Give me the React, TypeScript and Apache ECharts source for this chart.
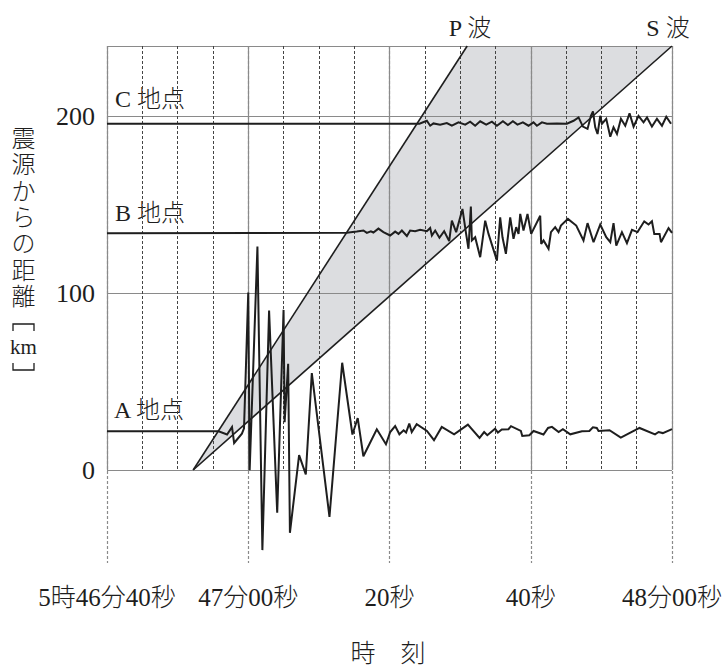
import React, { useEffect, useRef } from 'react';
import * as echarts from 'echarts';

// time in seconds after 5:46:40, distance in km
const TICK_SECONDS = [0, 20, 40, 60, 80];
const TICK_LABELS = ['5時46分40秒', '47分00秒', '20秒', '40秒', '48分00秒'];
const Y_TICKS = [0, 100, 200];
const P_WAVE = [[12.2, 0], [51.0, 240]];
const S_WAVE = [[12.2, 0], [80, 240]];
const WAVE_ZONE = [[12.2, 0], [51.0, 240], [80, 240]];

const TRACE_A = [
  [0, 22], [15.8, 22], [17.0, 20.2], [17.7, 24.4], [18.0, 15.4], [19.1, 20.7], [19.4, 23.7],
  [20.0, 100.5], [20.2, 0], [21.3, 126.5], [22.0, -45.2], [22.95, 90.3], [24.1, -24.1],
  [25.0, 90.7], [25.15, 27.1], [25.65, 60.2], [25.9, -35.4], [27.2, 8.5], [28.15, -2.4],
  [29.0, 54.9], [31.5, -26.4], [33.3, 60.8], [34.75, 20.2], [35.5, 29.5], [36.3, 7.9],
  [38.2, 23.2], [39.5, 14.7], [40.1, 21.6], [40.8, 25], [41.4, 20.3], [42.0, 22.6],
  [42.35, 21.3], [42.8, 26.4], [43.15, 21.6], [43.85, 26], [45.3, 22.2], [46.3, 17],
  [47.4, 24.5], [49.15, 20.3], [51.1, 25.8], [52.75, 18.3], [53.4, 21.6], [53.85, 19.8],
  [54.95, 23.5], [55.35, 21.3], [55.9, 23], [56.85, 23.2], [57.2, 24.9], [58.6, 22.2],
  [58.8, 19.4], [59.8, 19.8], [60.4, 22.2], [61.8, 20.2], [62.45, 23.9], [63.0, 24.5],
  [63.95, 21.6], [64.55, 23.2], [65.6, 20.3], [67.25, 22], [68.3, 22.2], [68.8, 24.3],
  [69.35, 23.9], [69.6, 22.2], [71.15, 22.6], [72.75, 18.4], [75.4, 23.9], [77.6, 20.3],
  [78.1, 21.6], [78.7, 21], [80, 23.2],
];

const TRACE_B = [
  [0, 134], [33.96, 134.3], [35.37, 135], [36.31, 135.6], [36.79, 134.3], [37.36, 135.2],
  [37.72, 134.5], [38.43, 136.7], [39.14, 134.7], [40.09, 132.8], [40.8, 135], [41.27, 133.7],
  [41.75, 135.6], [42.46, 132.5], [42.92, 135.6], [43.63, 135.2], [44.34, 136], [45.29, 135.2],
  [45.76, 137], [46.0, 132.8], [46.47, 135.6], [47.07, 131.5], [47.74, 135.2], [48.45, 129.6],
  [48.83, 141.2], [49.44, 134.7], [50.33, 147.8], [50.81, 134.7], [51.18, 125.3], [51.52, 149.2],
  [51.66, 130], [52.13, 131.8], [52.84, 120.5], [53.55, 141.2], [54.02, 133.7], [55.21, 118.6],
  [55.67, 143], [56.0, 131.8], [56.48, 122.4], [57.09, 143], [57.56, 130.9], [57.94, 137.5],
  [58.27, 133.7], [58.51, 145], [58.97, 135.6], [59.54, 145], [60.06, 133.7], [61.34, 144],
  [61.48, 128], [61.81, 130], [62.52, 125.3], [62.86, 134.7], [63.46, 137.5], [63.93, 134.7],
  [64.27, 138.4], [65.26, 142.2], [66.44, 138.4], [67.47, 130], [68.04, 139.8], [68.89, 129],
  [69.84, 139], [70.69, 131.8], [71.26, 129], [71.72, 139.8], [72.11, 127.1], [72.91, 134.7],
  [73.62, 128.5], [74.33, 136], [75.12, 134.7], [76.07, 140.8], [76.68, 139], [77.16, 140.8],
  [77.49, 133.7], [78.24, 133.7], [78.44, 129], [79.51, 137], [80, 134.3],
];

const TRACE_C = [
  [0, 196], [44.24, 196], [45.29, 197.7], [45.76, 194.9], [46.22, 196.2], [47.17, 195.5],
  [48.12, 196.4], [48.83, 194.9], [49.77, 196.8], [50.72, 195.5], [51.42, 197.2], [52.13, 194.9],
  [52.84, 197.4], [53.69, 195.5], [54.5, 197.2], [55.21, 194.9], [56.06, 197.4], [56.76, 195.3],
  [57.47, 197.4], [58.12, 195.5], [58.89, 196.8], [59.68, 194.9], [60.39, 196.8], [60.87, 194.9],
  [61.58, 196.8], [62.29, 196], [63.71, 196.2], [65.12, 196], [66.06, 197.7], [66.77, 199.6],
  [67.39, 194.4], [68.04, 193.1], [68.52, 200.5], [68.81, 203], [69.13, 194], [69.46, 190.2],
  [69.84, 200.5], [70.08, 196], [70.69, 198.8], [71.26, 188.7], [71.72, 194], [72.21, 190.2],
  [72.77, 198.8], [73.38, 194.9], [73.99, 201.9], [74.56, 194.4], [75.26, 200.5], [75.97, 196.8],
  [76.46, 199.6], [77.16, 194.4], [77.87, 198.8], [78.58, 194.9], [79.19, 200], [79.86, 196],
];

const STATION_NAMES = ['A 地点', 'B 地点', 'C 地点'];
const WAVE_NAMES = ['P 波', 'S 波'];
const Y_TITLE = '震源からの距離';
const Y_UNIT = 'km';
const X_TITLE = '時　刻';

const FONT = "'Liberation Serif', 'Noto Sans CJK JP', serif";
const INK = '#1e1e1e';
const GRID_GRAY = '#8a8a8a';

export default function App() {
  const ref = useRef<HTMLDivElement>(null);

  useEffect(() => {
    document.body.style.margin = '0';
    if (!ref.current) return;
    const chart = echarts.init(ref.current, undefined, { renderer: 'svg' });

    const traceSeries = (data: number[][]) => ({
      type: 'line',
      xAxisIndex: 1,
      yAxisIndex: 1,
      data,
      showSymbol: false,
      symbol: 'none',
      lineStyle: { color: INK, width: 2, join: 'miter', miterLimit: 3 },
      z: 5,
    });

    const waveLine = (data: number[][]) => ({
      type: 'line',
      xAxisIndex: 0,
      yAxisIndex: 0,
      data,
      showSymbol: false,
      symbol: 'none',
      lineStyle: { color: INK, width: 1.6 },
      z: 4,
    });

    const textStyle = (text: string, size: number) => ({
      text,
      fill: INK,
      font: `300 ${size}px ${FONT}`,
    });

    chart.setOption({
      animation: false,
      backgroundColor: '#ffffff',
      grid: [
        { left: 107, top: 46, width: 565, height: 424 },
        { left: 107, top: 46, width: 565, height: 517 },
      ],
      xAxis: [
        {
          gridIndex: 0,
          type: 'value',
          min: 0,
          max: 80,
          interval: 20,
          axisLine: { show: false },
          axisTick: { show: false },
          axisLabel: { show: false },
          splitLine: { show: true, lineStyle: { color: GRID_GRAY, width: 1.2 } },
          minorTick: { show: false, splitNumber: 4 },
          minorSplitLine: { show: true, lineStyle: { color: '#444', width: 1, type: [3, 2] } },
        },
        {
          gridIndex: 1,
          type: 'value',
          min: 0,
          max: 80,
          interval: 20,
          axisLine: { show: false },
          axisTick: { show: false },
          axisLabel: {
            show: true,
            margin: 22,
            color: INK,
            fontSize: 25,
            fontWeight: 300,
            fontFamily: FONT,
            formatter: (v: number) => {
              const i = TICK_SECONDS.indexOf(v);
              return i >= 0 ? TICK_LABELS[i] : '';
            },
          },
          splitLine: { show: true, lineStyle: { color: GRID_GRAY, width: 1.2, type: [3, 2] } },
        },
      ],
      yAxis: [
        {
          gridIndex: 0,
          type: 'value',
          min: 0,
          max: 240,
          interval: 100,
          axisLine: { show: false },
          axisTick: { show: false },
          axisLabel: {
            show: true,
            margin: 12,
            color: INK,
            fontSize: 26,
            fontWeight: 300,
            fontFamily: FONT,
            formatter: (v: number) => (Y_TICKS.indexOf(v) >= 0 ? String(v) : ''),
          },
          splitLine: { show: true, lineStyle: { color: GRID_GRAY, width: 1.2 } },
        },
        {
          gridIndex: 1,
          type: 'value',
          min: -52.5,
          max: 240,
          show: false,
        },
      ],
      series: [
        {
          type: 'custom',
          xAxisIndex: 0,
          yAxisIndex: 0,
          data: [WAVE_ZONE[0]],
          z: -1,
          silent: true,
          renderItem: (params: any, api: any) => {
            const pts = WAVE_ZONE.map((p) => api.coord(p));
            return { type: 'polygon', shape: { points: pts }, style: { fill: '#dcdde0' } };
          },
        },
        waveLine(P_WAVE),
        waveLine(S_WAVE),
        traceSeries(TRACE_A),
        traceSeries(TRACE_B),
        traceSeries(TRACE_C),
      ],
      graphic: [
        { type: 'text', x: 114, y: 410, style: { ...textStyle(STATION_NAMES[0], 24), textVerticalAlign: 'middle' } },
        { type: 'text', x: 115, y: 213, style: { ...textStyle(STATION_NAMES[1], 24), textVerticalAlign: 'middle' } },
        { type: 'text', x: 115, y: 99, style: { ...textStyle(STATION_NAMES[2], 24), textVerticalAlign: 'middle' } },
        { type: 'text', x: 470, y: 28, style: { ...textStyle(WAVE_NAMES[0], 24), textAlign: 'center', textVerticalAlign: 'middle' } },
        { type: 'text', x: 668, y: 28, style: { ...textStyle(WAVE_NAMES[1], 24), textAlign: 'center', textVerticalAlign: 'middle' } },
        {
          type: 'text',
          x: 23.5,
          y: 126,
          style: {
            text: Y_TITLE.split('').join('\n'),
            fill: INK,
            fontSize: 24,
            fontWeight: 300,
            fontFamily: FONT,
            lineHeight: 26.3,
            textAlign: 'center',
            textVerticalAlign: 'top',
          },
        },
        { type: 'polyline', shape: { points: [[13, 331], [13, 324], [34, 324], [34, 331]] }, style: { stroke: INK, lineWidth: 1.3, fill: 'none' } },
        { type: 'text', x: 23.5, y: 347, style: { ...textStyle(Y_UNIT, 21), textAlign: 'center', textVerticalAlign: 'middle' } },
        { type: 'polyline', shape: { points: [[13, 363], [13, 370], [34, 370], [34, 363]] }, style: { stroke: INK, lineWidth: 1.3, fill: 'none' } },
        { type: 'text', x: 388, y: 653, style: { ...textStyle(X_TITLE, 25), textAlign: 'center', textVerticalAlign: 'middle' } },
      ],
    });

    return () => chart.dispose();
  }, []);

  return <div ref={ref} style={{ width: 727, height: 666 }} />;
}
